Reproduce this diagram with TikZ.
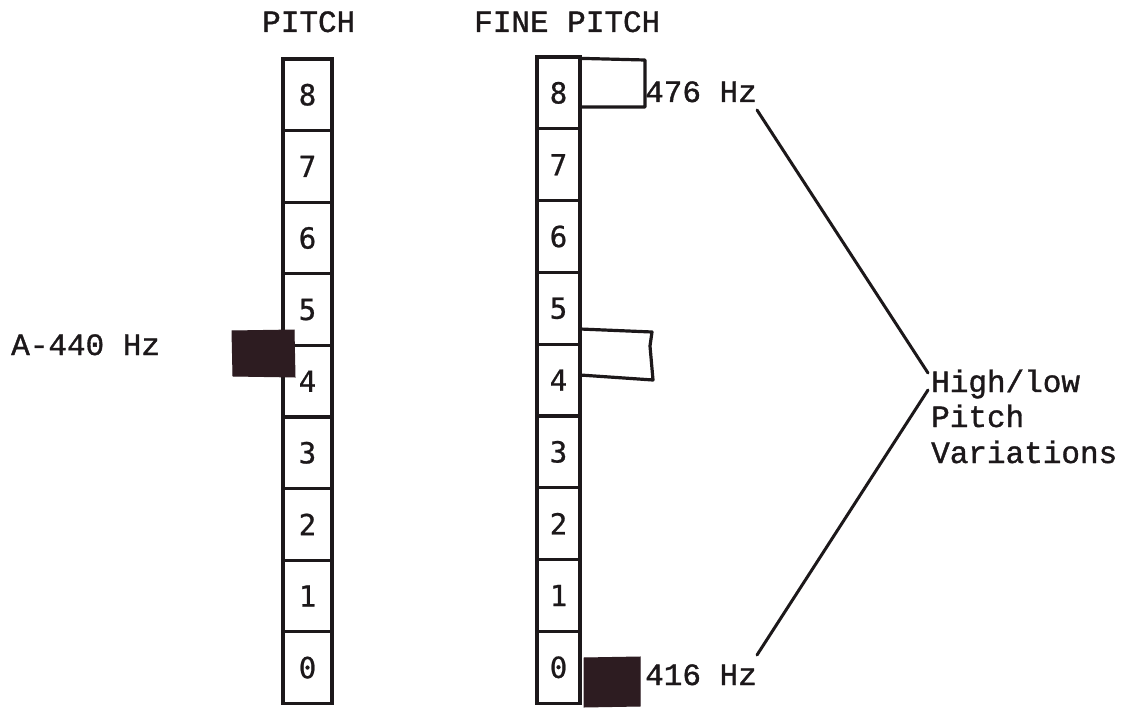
\documentclass[tikz,border=0pt]{standalone}
\usepackage{fontspec}
\newfontfamily\tw{Liberation Mono}[FakeBold=1.2]
\newfontfamily\dig{DejaVu Sans Mono}[FakeBold=0.8]
\definecolor{ink}{RGB}{28,24,26}
\definecolor{blob}{RGB}{45,28,33}
\tikzset{
  lbl/.style={inner sep=0pt, anchor=base west, text=ink, font={\tw\fontsize{31}{36}\selectfont}},
  pcell/.style={draw=ink, line width=3.2pt, minimum width=49pt, minimum height=71.6pt, inner sep=0pt, text=ink, font={\dig\fontsize{29}{32}\selectfont}},
  fcell/.style={draw=ink, line width=3.2pt, minimum width=43pt, minimum height=71.8pt, inner sep=0pt, text=ink, font={\dig\fontsize{29}{32}\selectfont}},
  flag/.style={draw=ink, line width=3.2pt, line join=round},
  solid box/.style={fill=blob, draw=blob, line width=1pt},
  leader/.style={draw=ink, line width=3pt, line cap=round}
}
\begin{document}
\begin{tikzpicture}[x=1pt, y=-1pt]
\useasboundingbox (0,0) rectangle (1127,711);
% titles
\node[lbl] (tpitch) at (262,32) {PITCH};
\node[lbl] (tfine) at (474,32) {FINE PITCH};
% pitch column
\foreach \i in {0,...,8}
  \node[pcell] (p\i) at (307.5, {59+(8-\i)*71.6+35.8}) {\i};
% fine pitch column
\foreach \i in {0,...,8}
  \node[fcell] (f\i) at (558.5, {57+(8-\i)*71.8+35.9}) {\i};
% A-440 marker
\node[lbl] (a440) at (11,355) {A-440 Hz};
\path[solid box] (232,331) -- (294,330) -- (295,377) -- (233,376) -- cycle;
% fine pitch flags
\draw[flag] (f8.north east) ++(0,3) -- (645,60) -- (645,107) -- (580,107);
\draw[flag] (580,329) -- (652,332) -- (650,346) -- (653,380) -- (580,375);
\path[solid box] (584,658) -- (640,657) -- (640,706) -- (584,707) -- cycle;
% labels
\node[lbl] (hz476) at (645,102) {476 Hz};
\node[lbl] (hz416) at (645,685) {416 Hz};
\node[lbl] (hl1) at (931,392) {High/low};
\node[lbl] (hl2) at (931,427) {Pitch};
\node[lbl] (hl3) at (931,463) {Variations};
% leader lines
\coordinate (u0) at (757,110);
\coordinate (u1) at (928,373);
\coordinate (l0) at (757,655);
\coordinate (l1) at (928,390);
\draw[leader] (u0) -- (u1);
\draw[leader] (l0) -- (l1);
\end{tikzpicture}
\end{document}
